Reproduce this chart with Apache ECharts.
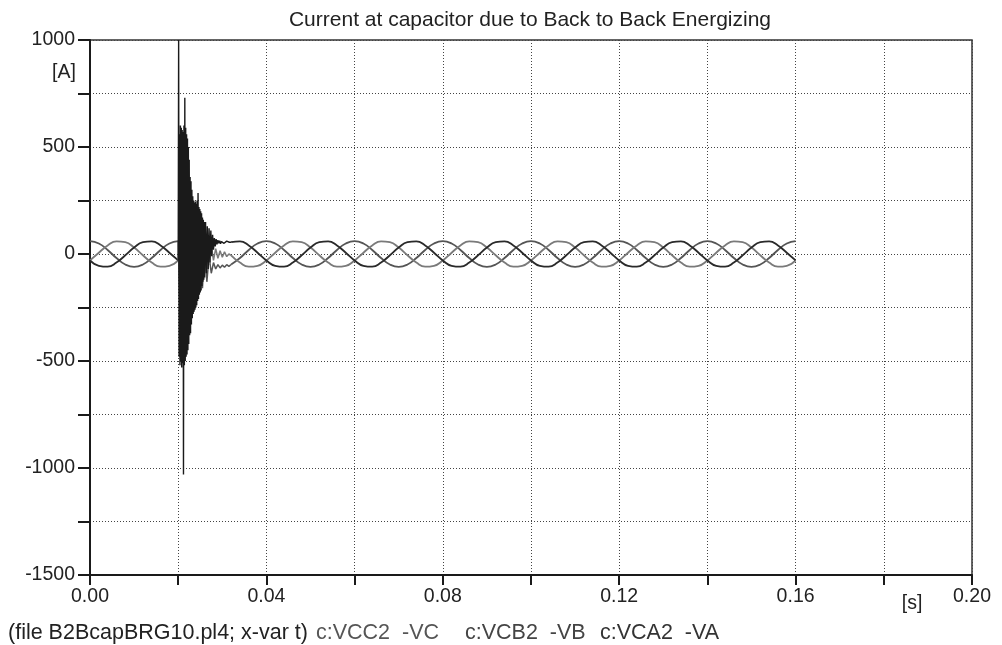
<!DOCTYPE html>
<html>
<head>
<meta charset="utf-8">
<script src="https://cdn.jsdelivr.net/npm/echarts@6.0.0/dist/echarts.min.js"></script>
<style>
  html, body { margin: 0; padding: 0; background: #fff; }
  #chart { width: 1002px; height: 645px; }
</style>
</head>
<body>
<div id="chart"></div>
<script>
// Time stamps [s] of the steady 50 Hz parts, before and after switching
const tPre = [0.000, 0.002, 0.004, 0.006, 0.008, 0.010, 0.012, 0.014, 0.016, 0.018, 0.020];
const tPost = [
  0.032, 0.034, 0.036, 0.038, 0.040, 0.042, 0.044, 0.046, 0.048, 0.050,
  0.052, 0.054, 0.056, 0.058, 0.060, 0.062, 0.064, 0.066, 0.068, 0.070,
  0.072, 0.074, 0.076, 0.078, 0.080, 0.082, 0.084, 0.086, 0.088, 0.090,
  0.092, 0.094, 0.096, 0.098, 0.100, 0.102, 0.104, 0.106, 0.108, 0.110,
  0.112, 0.114, 0.116, 0.118, 0.120, 0.122, 0.124, 0.126, 0.128, 0.130,
  0.132, 0.134, 0.136, 0.138, 0.140, 0.142, 0.144, 0.146, 0.148, 0.150,
  0.152, 0.154, 0.156, 0.158, 0.160
];
// Time stamps [s] of the inrush transient (fine and coarse resolution)
const tBurstFine = [
  0.0200, 0.0201, 0.0202, 0.0203, 0.0204, 0.0205, 0.0206, 0.0207, 0.0208, 0.0209,
  0.0210, 0.0211, 0.0212, 0.0213, 0.0214, 0.0215, 0.0216, 0.0217, 0.0218, 0.0219,
  0.0220, 0.0221, 0.0222, 0.0223, 0.0224, 0.0225, 0.0226, 0.0227, 0.0228, 0.0229,
  0.0230, 0.0231, 0.0232, 0.0233, 0.0234, 0.0235, 0.0236, 0.0237, 0.0238, 0.0239,
  0.0240, 0.0241, 0.0242, 0.0243, 0.0244, 0.0245, 0.0246, 0.0247, 0.0248, 0.0249,
  0.0250, 0.0251, 0.0252, 0.0253, 0.0254, 0.0255, 0.0256, 0.0257, 0.0258, 0.0259,
  0.0260,
  0.0262, 0.0264, 0.0266, 0.0268, 0.0270, 0.0272, 0.0274, 0.0276, 0.0278, 0.0280,
  0.0282, 0.0284, 0.0286, 0.0288, 0.0290, 0.0292, 0.0294, 0.0296, 0.0298, 0.0300,
  0.0302, 0.0304, 0.0306, 0.0308, 0.0310, 0.0312, 0.0314, 0.0316, 0.0318, 0.0320
];
const tBurstCoarse = [
  0.0200, 0.0205, 0.0210, 0.0215, 0.0220, 0.0225, 0.0230, 0.0235, 0.0240, 0.0245,
  0.0250, 0.0255, 0.0260, 0.0265, 0.0270, 0.0275, 0.0280, 0.0285, 0.0290, 0.0295,
  0.0300, 0.0305, 0.0310, 0.0315, 0.0320
];

// Capacitor currents [A]
const vaPre = [-30, -55, -59, -40, -6, 30, 55, 59, 40, 6, -30];
const vaBurst = [
  -30, 1000, -480, 560, -520, 600, -500, 590, -530, 580,
  -510, 570, -1030, 600, -520, 730, -500, 590, -480, 560,
  -470, 540, -450, 500, -420, 440, -380, 360, -370, 340,
  -330, 300, -300, 270, -280, 250, -270, 240, -260, 245,
  -250, 235, -240, 250, -220, 285, -210, 220, -190, 210,
  -180, 200, -170, 190, -150, 170, -130, 160, -120, 150,
  -110,
  150, -90, 130, -70, 120, -40, 110, -10, 90, 20,
  75, 35, 70, 45, 65, 50, 62, 48, 58, 52,
  60, 50, 58, 52, 60, 54, 58, 55, 57, 55
];
const vaPost = [
  55, 59, 40, 6, -30, -55, -59, -40, -6, 30,
  55, 59, 40, 6, -30, -55, -59, -40, -6, 30,
  55, 59, 40, 6, -30, -55, -59, -40, -6, 30,
  55, 59, 40, 6, -30, -55, -59, -40, -6, 30,
  55, 59, 40, 6, -30, -55, -59, -40, -6, 30,
  55, 59, 40, 6, -30, -55, -59, -40, -6, 30,
  55, 59, 40, 6, -30
];

const vbPre = [-30, 6, 40, 59, 55, 30, -6, -40, -59, -55, -30];
const vbBurst = [
  -30, 300, -380, 350, -280, 260, -220, 180, -160, 130,
  -110, 90, -80, 60, -50, 40, -30, 25, -20, 15,
  -15, 10, -12, 0, -6
];
const vbPost = [
  -6, -40, -59, -55, -30, 6, 40, 59, 55, 30,
  -6, -40, -59, -55, -30, 6, 40, 59, 55, 30,
  -6, -40, -59, -55, -30, 6, 40, 59, 55, 30,
  -6, -40, -59, -55, -30, 6, 40, 59, 55, 30,
  -6, -40, -59, -55, -30, 6, 40, 59, 55, 30,
  -6, -40, -59, -55, -30, 6, 40, 59, 55, 30,
  -6, -40, -59, -55, -30
];

const vcPre = [60, 49, 19, -19, -49, -60, -49, -19, 19, 49, 60];
const vcBurst = [
  60, -350, 420, -380, 300, -320, 200, -240, 150, -200,
  100, -160, 40, -130, -10, -90, -40, -70, -50, -65,
  -52, -62, -50, -58, -49
];
const vcPost = [
  -49, -19, 19, 49, 60, 49, 19, -19, -49, -60,
  -49, -19, 19, 49, 60, 49, 19, -19, -49, -60,
  -49, -19, 19, 49, 60, 49, 19, -19, -49, -60,
  -49, -19, 19, 49, 60, 49, 19, -19, -49, -60,
  -49, -19, 19, 49, 60, 49, 19, -19, -49, -60,
  -49, -19, 19, 49, 60, 49, 19, -19, -49, -60,
  -49, -19, 19, 49, 60
];

// Axis tick values that carry a label
const xLabelTicks = [0, 0.04, 0.08, 0.12, 0.16, 0.20];
const yLabelTicks = [-1500, -1000, -500, 0, 500, 1000];

const FONT = '"Liberation Sans", Arial, sans-serif';
const colVA = '#2a2a2a';
const colVB = '#7a7a7a';
const colVC = '#555555';

function pairs(ts, vs) { return ts.map((t, i) => [t, vs[i]]); }

function steady(name, ts, vs, color) {
  return {
    name: name, type: 'line', data: pairs(ts, vs), smooth: 0.5,
    showSymbol: false, silent: true,
    lineStyle: { color: color, width: 1.8 }
  };
}
function burst(name, ts, vs, color, w) {
  return {
    name: name, type: 'line', data: pairs(ts, vs), smooth: false,
    showSymbol: false, silent: true,
    lineStyle: { color: color, width: w }
  };
}

function isTick(list, v) {
  return list.some(t => Math.abs(t - v) < 1e-9);
}

const chart = echarts.init(document.getElementById('chart'), null, { renderer: 'canvas' });

chart.setOption({
  animation: false,
  backgroundColor: '#ffffff',
  grid: {
    left: 90, right: 30, top: 40, bottom: 70,
    show: true, borderColor: '#333', borderWidth: 1.5, backgroundColor: '#fff'
  },
  xAxis: {
    type: 'value', min: 0, max: 0.2, interval: 0.02,
    axisLine: { onZero: false, lineStyle: { color: '#1a1a1a', width: 2 } },
    axisTick: { length: 10, lineStyle: { color: '#1a1a1a', width: 2 } },
    axisLabel: {
      margin: 12, color: '#222', fontSize: 19.5, fontFamily: FONT,
      formatter: v => isTick(xLabelTicks, v) ? v.toFixed(2) : ''
    },
    splitLine: { show: true, lineStyle: { color: '#444', width: 1, type: [1, 2] } }
  },
  yAxis: {
    type: 'value', min: -1500, max: 1000, interval: 250,
    axisLine: { onZero: false, lineStyle: { color: '#1a1a1a', width: 2 } },
    axisTick: { length: 12, lineStyle: { color: '#1a1a1a', width: 2 } },
    axisLabel: {
      margin: 15, color: '#222', fontSize: 19.5, fontFamily: FONT,
      formatter: v => isTick(yLabelTicks, v) ? String(v) : ''
    },
    splitLine: { show: true, lineStyle: { color: '#444', width: 1, type: [1, 2] } }
  },
  graphic: [
    { type: 'text', x: 530, y: 20, style: {
        text: 'Current at capacitor due to Back to Back Energizing',
        fontSize: 21, fontFamily: FONT, fill: '#222', align: 'center', verticalAlign: 'middle' } },
    { type: 'text', x: 52, y: 73, style: {
        text: '[A]', fontSize: 19.5, fontFamily: FONT, fill: '#222', align: 'left', verticalAlign: 'middle' } },
    { type: 'text', x: 912, y: 604, style: {
        text: '[s]', fontSize: 19.5, fontFamily: FONT, fill: '#222', align: 'center', verticalAlign: 'middle' } },
    { type: 'text', x: 8, y: 633, style: {
        text: '(file B2BcapBRG10.pl4; x-var t)', fontSize: 21.5, fontFamily: FONT, fill: '#222', align: 'left', verticalAlign: 'middle' } },
    { type: 'text', x: 316, y: 633, style: {
        text: 'c:VCC2  -VC', fontSize: 21.5, fontFamily: FONT, fill: '#555', align: 'left', verticalAlign: 'middle' } },
    { type: 'text', x: 465, y: 633, style: {
        text: 'c:VCB2  -VB', fontSize: 21.5, fontFamily: FONT, fill: '#444', align: 'left', verticalAlign: 'middle' } },
    { type: 'text', x: 600, y: 633, style: {
        text: 'c:VCA2  -VA', fontSize: 21.5, fontFamily: FONT, fill: '#333', align: 'left', verticalAlign: 'middle' } }
  ],
  series: [
    steady('VC', tPre, vcPre, colVC),
    steady('VC', tPost, vcPost, colVC),
    steady('VB', tPre, vbPre, colVB),
    steady('VB', tPost, vbPost, colVB),
    steady('VA', tPre, vaPre, colVA),
    steady('VA', tPost, vaPost, colVA),
    burst('VC', tBurstCoarse, vcBurst, colVC, 1.5),
    burst('VB', tBurstCoarse, vbBurst, colVB, 1.5),
    burst('VA', tBurstFine, vaBurst, '#1a1a1a', 1.4)
  ]
});
</script>
</body>
</html>
